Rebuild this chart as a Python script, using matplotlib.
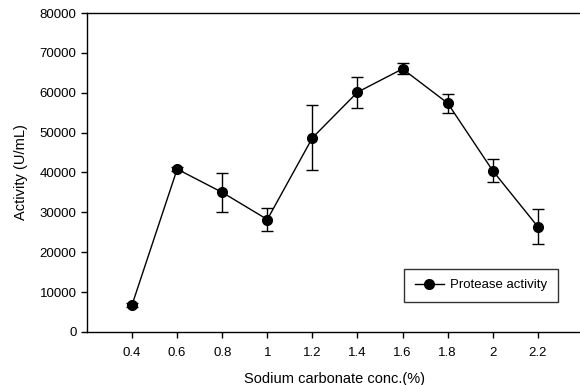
import matplotlib
matplotlib.use("Agg")
import matplotlib.pyplot as plt

plt.rcParams['font.family'] = ['Liberation Sans', 'DejaVu Sans']

conc = [0.4, 0.6, 0.8, 1.0, 1.2, 1.4, 1.6, 1.8, 2.0, 2.2]
activity = [6800, 40850, 35000, 28200, 48700, 60150, 66000, 57400, 40450, 26400]
errors = [500, 400, 4900, 3000, 8200, 3900, 1400, 2400, 2850, 4350]
xtick_labels = ['0.4', '0.6', '0.8', '1', '1.2', '1.4', '1.6', '1.8', '2', '2.2']

fig = plt.figure(figsize=(5.8, 3.85), dpi=100)
ax = fig.add_axes([0.150, 0.138, 0.855, 0.828])

ax.errorbar(conc, activity, yerr=errors, color='black', fmt='none',
            elinewidth=1.0, capsize=4, capthick=1.0)
ax.plot(conc, activity, color='black', marker='o', markersize=7,
        linewidth=1.0, label='Protease activity')

ax.set_xlim(0.2, 2.4)
ax.set_ylim(0, 80000)
ax.set_xticks(conc)
ax.set_xticklabels(xtick_labels)
ax.set_yticks(range(0, 80001, 10000))
ax.tick_params(direction='out', length=4, width=1, labelsize=9.5)
ax.tick_params(axis='x', pad=7)
ax.spines['right'].set_visible(False)
for s in ['left', 'bottom', 'top']:
    ax.spines[s].set_linewidth(1.0)

ax.set_xlabel('Sodium carbonate conc.(%)', fontsize=10.5, labelpad=9)
ax.set_ylabel('Activity (U/mL)', fontsize=10.5, labelpad=8)

leg = ax.legend(loc='lower right', bbox_to_anchor=(0.95, 0.094), fontsize=9.5,
                frameon=True, fancybox=False, edgecolor='black',
                handlelength=2.2, handletextpad=0.5, borderpad=0.8,
                borderaxespad=0)
leg.get_frame().set_linewidth(1.0)

fig.savefig('out.png', dpi=100)
